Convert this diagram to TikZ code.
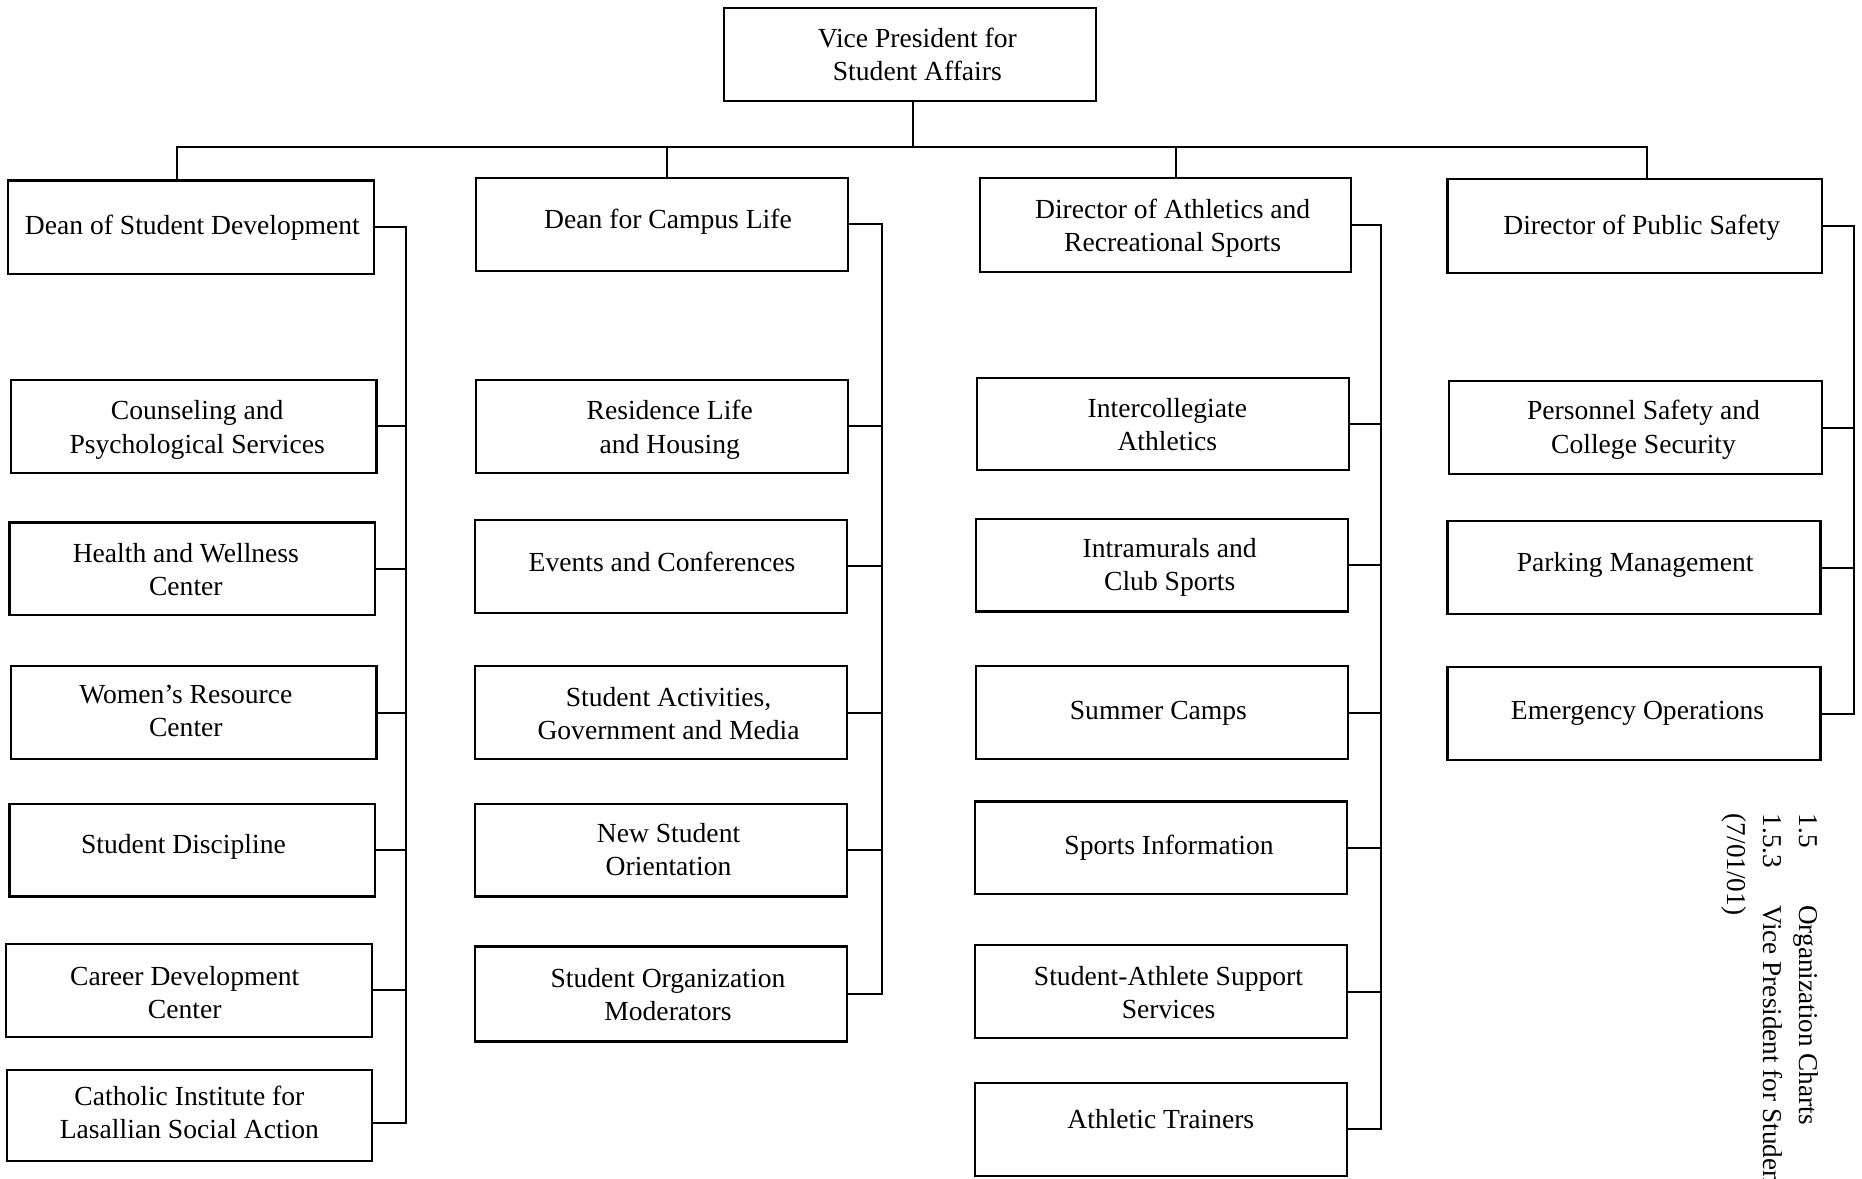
\documentclass[tikz,border=0pt]{standalone}
\usepackage{fontspec}
\setmainfont{Liberation Serif}
\newdimen\pxu \pxu=0.59375pt
\tikzset{
  obox/.style={draw, line width=1.1pt, inner sep=2pt, align=center,
    font=\fontsize{13.8}{16.6}\selectfont},
  link/.style={line width=1pt},
  side/.style={rotate=-90, anchor=base west, inner sep=0pt,
    font=\fontsize{13.6}{16}\selectfont}
}
% box given by its corners: name, x1, y1, x2, y2, text nudge dx, dy, text
\newcommand\orgbox[8]{%
  \node[obox, minimum width={(#4-#2)*\pxu}, minimum height={(#5-#3)*\pxu}]
    (#1) at ({(#2+#4)/2},{(#3+#5)/2})
    {\raisebox{#7\pxu}[\height][\depth]{\hspace*{#6\pxu}\hspace*{#6\pxu}\begin{tabular}{@{}c@{}}#8\end{tabular}}};}
\begin{document}
\begin{tikzpicture}[x=0.59375pt, y=-0.59375pt]
\useasboundingbox (0,0) rectangle (1568,992);
\clip (0,0) rectangle (1568,992);

% top
\orgbox{vp}{610}{7}{923}{85}{6}{-2}{Vice President for\\Student Affairs}

% heads
\orgbox{c1h}{7}{152}{315}{231}{1}{0}{Dean of Student Development}
\orgbox{c2h}{401}{150}{714}{228}{5}{2}{Dean for Campus Life}
\orgbox{c3h}{825}{150}{1138}{229}{6}{-3}{Director of Athletics and\\Recreational Sports}
\orgbox{c4h}{1219}{151}{1534}{230}{6}{-1}{Director of Public Safety}

% column 1
\orgbox{c1a}{9}{320}{317}{398}{3}{-3}{Counseling and\\Psychological Services}
\orgbox{c1b}{8}{440}{316}{518}{-5.5}{-3}{Health and Wellness\\Center}
\orgbox{c1c}{9}{561}{317}{639}{-6.5}{-1}{Women's Resource\\Center}
\orgbox{c1d}{8}{677}{316}{755}{-7.5}{3}{Student Discipline}
\orgbox{c1e}{5}{795}{313}{873}{-3.5}{-4}{Career Development\\Center}
\orgbox{c1f}{6}{901}{313}{978}{0}{0}{Catholic Institute for\\Lasallian Social Action}

% column 2
\orgbox{c2a}{401}{320}{714}{398}{6.5}{-3}{Residence Life\\and Housing}
\orgbox{c2b}{400}{438}{713}{516}{1}{1}{Events and Conferences}
\orgbox{c2c}{400}{561}{713}{639}{6.5}{-3}{Student Activities,\\Government and Media}
\orgbox{c2d}{400}{677}{713}{755}{6.5}{-2}{New Student\\Orientation}
\orgbox{c2e}{400}{797}{713}{877}{6}{-3}{Student Organization\\Moderators}

% column 3
\orgbox{c3a}{823}{318}{1136}{396}{3.5}{-3}{Intercollegiate\\Athletics}
\orgbox{c3b}{822}{437}{1135}{515}{6.5}{-2}{Intramurals and\\Club Sports}
\orgbox{c3c}{822}{561}{1135}{639}{-3}{0}{Summer Camps}
\orgbox{c3d}{821}{675}{1134}{753}{7}{0}{Sports Information}
\orgbox{c3e}{821}{796}{1134}{874}{6.5}{-3}{Student-Athlete Support\\Services}
\orgbox{c3f}{821}{912}{1134}{990}{0}{6}{Athletic Trainers}

% column 4
\orgbox{c4a}{1220}{321}{1534}{399}{7}{-2}{Personnel Safety and\\College Security}
\orgbox{c4b}{1219}{439}{1533}{517}{1}{2}{Parking Management}
\orgbox{c4c}{1219}{562}{1533}{640}{3}{1}{Emergency Operations}

% bus from the vice president to the four heads
\coordinate (b1) at (149,124);
\coordinate (b2) at (562,124);
\coordinate (b3) at (990,124);
\coordinate (b4) at (1387,124);
\draw[link] (vp.south -| 769,0) -- (b1 -| 769,0);
\draw[link] (c1h.north -| b1) -- (b1) -- (b4) -- (c4h.north -| b4);
\draw[link] (b2) -- (c2h.north -| b2);
\draw[link] (b3) -- (c3h.north -| b3);

% spines down the right side of each column
\coordinate (s1) at (342,0);
\coordinate (s2) at (743,0);
\coordinate (s3) at (1163,0);
\coordinate (s4) at (1561,0);
\coordinate (c1fx) at ([yshift=-6.5\pxu]c1f.east);
\draw[link] (c1h.east) -| (s1 |- c1fx) -- (c1fx);
\foreach \n in {c1a,c1b,c1c,c1d,c1e} \draw[link] (\n.east) -- (\n.east -| s1);
\draw[link] (c2h.east) -| (s2 |- c2e.east) -- (c2e.east);
\foreach \n in {c2a,c2b,c2c,c2d} \draw[link] (\n.east) -- (\n.east -| s2);
\draw[link] (c3h.east) -| (s3 |- c3f.east) -- (c3f.east);
\foreach \n in {c3a,c3b,c3c,c3d,c3e} \draw[link] (\n.east) -- (\n.east -| s3);
\draw[link] (c4h.east) -| (s4 |- c4c.east) -- (c4c.east);
\foreach \n in {c4a,c4b} \draw[link] (\n.east) -- (\n.east -| s4);

% page heading set sideways at the right margin
\node[side] (h1) at (1515,685) {1.5};
\node[side] (h2) at (1515,762) {Organization Charts};
\node[side] (h3) at (1485,685) {1.5.3};
\node[side] (h4) at (1485,762) {Vice President for Student Affairs};
\node[side] (h5) at (1455,685) {(7/01/01)};
\end{tikzpicture}
\end{document}
